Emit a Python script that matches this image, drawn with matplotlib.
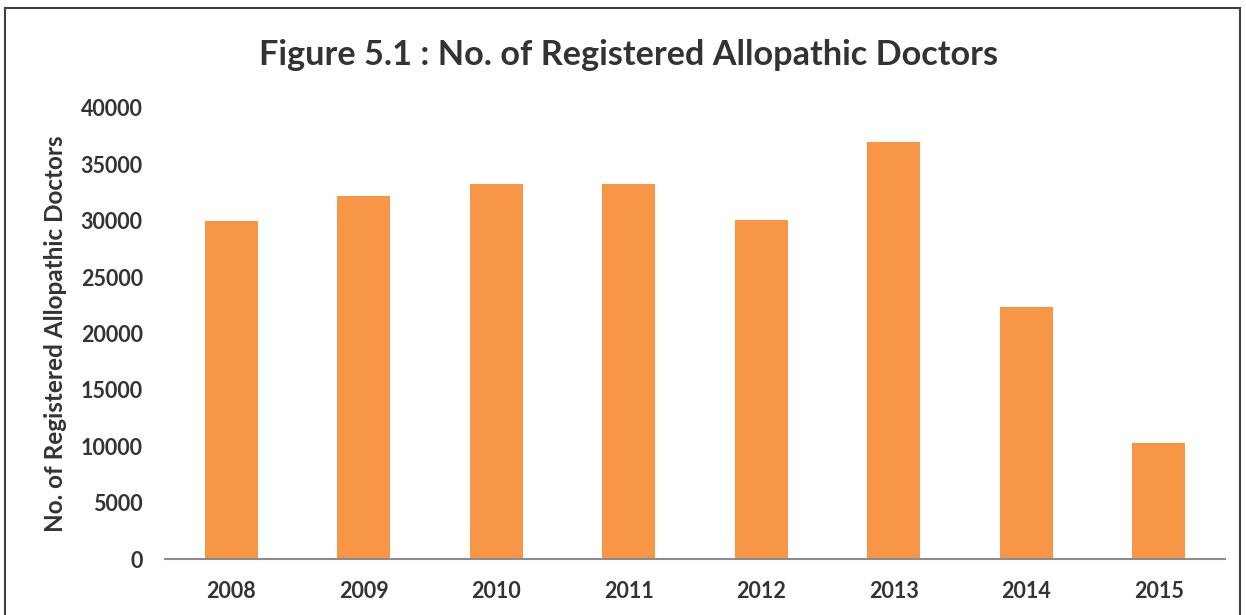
import matplotlib.pyplot as plt
from matplotlib.patches import Rectangle

plt.rcParams["font.family"] = ["Lato", "DejaVu Sans"]

years = ["2008", "2009", "2010", "2011", "2012", "2013", "2014", "2015"]
doctors = [29950, 32200, 33230, 33260, 30040, 37010, 22350, 10290]
y_ticks = [0, 5000, 10000, 15000, 20000, 25000, 30000, 35000, 40000]

text_col = "#333333"

fig = plt.figure(figsize=(12.46, 6.15), dpi=100)
fig.patch.set_facecolor("white")

# outer frame of the chart (runs off the bottom)
fig.patches.append(Rectangle((5 / 1246, -0.05), 1235 / 1246, 1 - 8 / 615 + 0.05,
                             transform=fig.transFigure, fill=False,
                             edgecolor="#404040", linewidth=1.5))

ax = fig.add_axes([165 / 1246, 1 - 559 / 615, (1225 - 165) / 1246, (559 - 108) / 615])
x = range(len(years))
ax.bar(x, doctors, width=0.4, color="#F79646", edgecolor="none")

ax.set_xlim(-0.5, len(years) - 0.5)
ax.set_ylim(0, 40000)
ax.set_xticks(list(x))
ax.set_xticklabels(years, fontsize=15.5, fontweight="bold", color=text_col)
ax.set_yticks(y_ticks)
ax.set_yticklabels([str(v) for v in y_ticks], fontsize=15.5, fontweight="bold", color=text_col)
ax.tick_params(axis="both", length=0)
ax.tick_params(axis="x", pad=16)
ax.tick_params(axis="y", pad=16)

for s in ["top", "right", "left"]:
    ax.spines[s].set_visible(False)
ax.spines["bottom"].set_color("#8c8c8c")
ax.spines["bottom"].set_linewidth(1.5)

ax.set_ylabel("No. of Registered Allopathic Doctors", fontsize=17.5, fontweight="bold",
              color=text_col, labelpad=10)

fig.text(629 / 1246, 1 - 55 / 615, "Figure 5.1 : No. of Registered Allopathic Doctors",
         ha="center", va="center", fontsize=24.7, fontweight="bold", color=text_col)

fig.savefig("out.png", dpi=100)
